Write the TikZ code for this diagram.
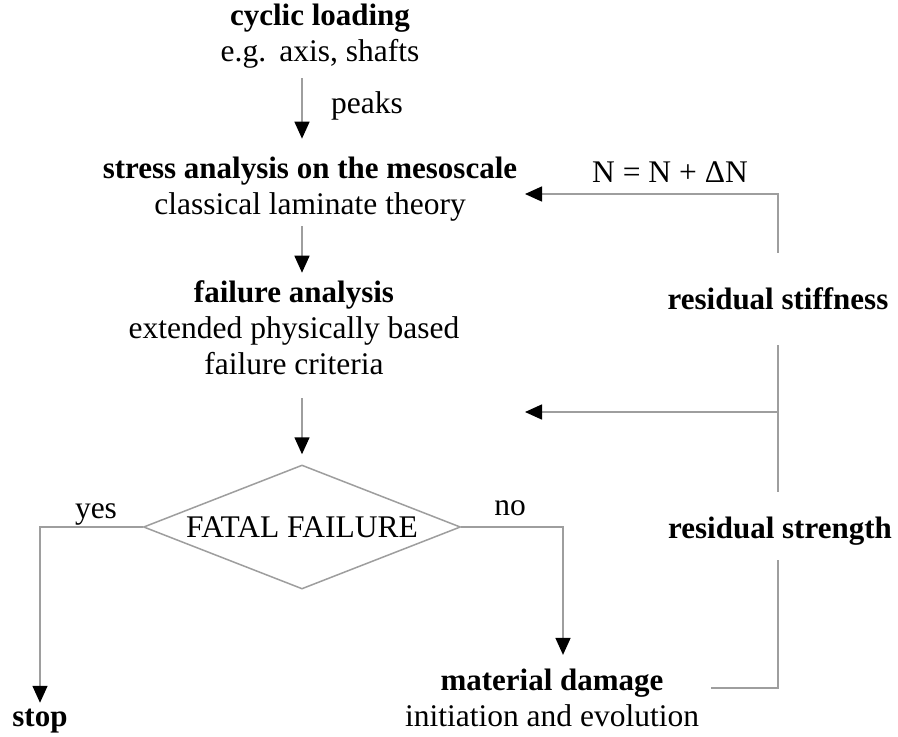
\documentclass[tikz,border=0pt]{standalone}
\usepackage{fontspec}
\setmainfont{Liberation Serif}
\usetikzlibrary{shapes.geometric,arrows.meta,positioning,calc}
\newcommand{\hd}[1]{{\fontsize{31}{36}\selectfont\bfseries #1}}

\begin{document}
\begin{tikzpicture}[x=1pt,y=-1pt,
    every node/.style={inner sep=0pt, align=center, font=\fontsize{31.5}{36}\selectfont},
    line/.style={draw=black!38, line width=1.5pt},
    flow/.style={line, -{Triangle[length=17pt,width=15pt,color=black]}},
    decision/.style={shape=diamond, draw=black!38, line width=1.5pt, aspect=2.56,
      minimum width=317pt, minimum height=124pt}]

        \fill[white] (0,0) rectangle (898,737);
        \useasboundingbox (0,0) rectangle (898,737);

        % Main chain
        \node (load) at (320,36) {\hd{cyclic loading}\\e.g.\ \,axis, shafts};
        \node (stress) at (310,189) {\hd{stress analysis on the mesoscale}\\classical laminate theory};
        \node (fail) at (294,328) {\hd{failure analysis}\\extended physically based\\failure criteria};
        \node[decision] (fatal) at (302,527) {FATAL FAILURE};
        \node (stop) at (40,721) {\hd{stop}};
        \node (dam) at (552,698) {\hd{material damage}\\initiation and evolution};

        % Feedback loop
        \node (stiff) at (778,299) {\hd{residual stiffness}};
        \node (strength) at (780,531) {\hd{residual strength}};
        \coordinate (fbtop) at (525,194);
        \coordinate (fbmid) at (525,412);

        % Labels
        \node (peaks) at (367,106) {peaks};
        \node (yes) at (96,514) {yes};
        \node (no) at (510,508) {no};
        \node (incr) at (670,172) {N = N + ΔN};

        % Arrows down
        \draw[flow, shorten <=10pt, shorten >=18pt] (load.south -| fatal.north) -- (stress.north -| fatal.north);
        \draw[flow, shorten <=5pt, shorten >=8pt] (stress.south -| fatal.north) -- (fail.north -| fatal.north);
        \draw[flow, shorten <=23pt, shorten >=10pt] (fail.south -| fatal.north) -- (fatal.north);
        \draw[flow, shorten >=6pt] (fatal.west) -| (stop.north);
        \draw[flow, shorten >=14pt] (fatal.east) -| ([xshift=11pt]dam.north);

        % Loop back
        \draw[line, shorten >=15pt] ($(dam.east)+(12,-10)$) -| (strength.south -| stiff.south);
        \draw[line, shorten <=25pt, shorten >=35pt] (strength.north -| stiff.north) -- (stiff.south);
        \draw[flow] (stiff.south |- fbmid) -- (fbmid);
        \draw[flow, shorten <=35pt] (stiff.north) |- (fbtop);
      \end{tikzpicture}
\end{document}
